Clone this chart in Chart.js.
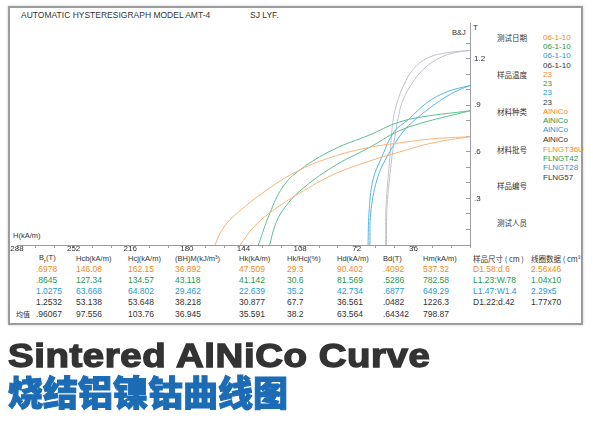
<!DOCTYPE html>
<html>
<head>
<meta charset="utf-8">
<script src="https://cdn.jsdelivr.net/npm/chart.js@4.4.0/dist/chart.umd.min.js"></script>
<style>
    html, body { margin: 0; padding: 0; background: #fff; }
    body { width: 593px; height: 421px; position: relative; overflow: hidden; font-family: "Liberation Sans", Arial, sans-serif; color: #333; }
    #frame { position: absolute; left: 8px; top: 6px; width: 575px; height: 319px; box-sizing: border-box; border: 2px solid #9c9c9c; box-shadow: 0 0 3px #d0d0d0; }
    #chartBox { position: absolute; left: 0; top: 0; width: 593px; height: 421px; }
    .t { position: absolute; white-space: nowrap; line-height: 1; transform: translateY(-50%); }
    .cn { font-family: "Noto Sans CJK SC", sans-serif; }
    #titleEn { position: absolute; left: 8px; top: 336px; font-size: 34px; font-weight: bold; color: #333; transform-origin: 0 0; transform: scaleX(1.13); -webkit-text-stroke: 1.4px #333; letter-spacing: 0.5px; }
    #titleCn { position: absolute; left: 8px; top: 372px; font-size: 35px; font-weight: 900; color: #1b6cb4; font-family: "Noto Sans CJK SC", sans-serif; line-height: 1.1; -webkit-text-stroke: 1px #1b6cb4; }
</style>
</head>
<body>
<div id="frame"></div>
<div id="texts"></div>
<div id="chartBox"><canvas id="amt-chart"></canvas></div>
<div id="titleEn">Sintered AlNiCo Curve</div>
<div id="titleCn">烧结铝镍钴曲线图</div>
<script>
// sample batches (one colour each)
var batches = ['FLNGT36U', 'FLNGT42', 'FLNGT28', 'FLNG57'];

// demagnetisation curves, H in kA/m, B / J in T
var h36uJ = [0, 23.5, 44.5, 65.5, 87.2, 108.1, 129.1, 150.8, 157.5, 162.15];
var b36uJ = [0.6978, 0.684, 0.658, 0.626, 0.568, 0.484, 0.355, 0.18, 0.1, 0];
var h36uB = [0, 23.5, 44.5, 65.5, 87.2, 108.1, 127, 138, 146.08];
var b36uB = [0.6978, 0.658, 0.6, 0.535, 0.452, 0.335, 0.21, 0.11, 0];

var h42J = [0, 29.9, 46.4, 63.6, 87.2, 108.1, 119, 127.2, 134.57];
var b42J = [0.8645, 0.826, 0.787, 0.71, 0.613, 0.484, 0.374, 0.206, 0];
var h42B = [0, 29.9, 46.4, 63.6, 87.2, 108.1, 119, 124, 127.34];
var b42B = [0.8645, 0.788, 0.729, 0.63, 0.503, 0.348, 0.224, 0.124, 0];

var h28J = [0, 14.6, 27.4, 39.4, 48.3, 56, 61.7, 64.2, 64.802];
var b28J = [1.0275, 0.987, 0.916, 0.806, 0.729, 0.568, 0.419, 0.206, 0];
var h28B = [0, 9.5, 21, 35, 42.6, 52.8, 59.2, 63.1, 63.668];
var b28B = [1.0275, 0.987, 0.916, 0.806, 0.729, 0.568, 0.419, 0.206, 0];

var h57J = [0, 14, 26.7, 36.3, 42.6, 46.4, 48.3, 49.6, 50.9, 52.2, 53.4, 53.648];
var b57J = [1.2532, 1.239, 1.206, 1.129, 1.019, 0.916, 0.839, 0.742, 0.568, 0.419, 0.245, 0];
var h57B = [0, 9.5, 19.1, 29.9, 38.2, 43.3, 45.2, 47.1, 49.6, 51.2, 52.8, 53.138];
var b57B = [1.2532, 1.239, 1.206, 1.129, 1.019, 0.916, 0.839, 0.742, 0.568, 0.419, 0.245, 0];

// axis ticks
var hTickLabels = [288, 252, 216, 180, 144, 108, 72, 36];
var bTickLabels = ['.3', '.6', '.9', '1.2'];

// info block on the right
var infoLabels = ['测试日期', '样品温度', '材料种类', '材料批号', '样品编号', '测试人员'];
var testDates = ['06-1-10', '06-1-10', '06-1-10', '06-1-10'];
var sampleTemps = ['23', '23', '23', '23'];
var materials = ['AlNiCo', 'AlNiCo', 'AlNiCo', 'AlNiCo'];

// result table
var tableHeaders = ['B<sub>r</sub>(T)', 'Hcb(kA/m)', 'Hcj(kA/m)', '(BH)M(kJ/m³)', 'Hk(kA/m)', 'Hk/Hcj(%)', 'Hd(kA/m)', 'Bd(T)', 'Hm(kA/m)', '样品尺寸 ( cm )', '线圈数据 ( cm²'];
var brVals = ['.6978', '.8645', '1.0275', '1.2532'];
var hcbVals = ['146.08', '127.34', '63.668', '53.138'];
var hcjVals = ['162.15', '134.57', '64.802', '53.648'];
var bhVals = ['36.892', '43.118', '29.462', '38.218'];
var hkVals = ['47.509', '41.142', '22.639', '30.877'];
var sqVals = ['29.3', '30.6', '35.2', '67.7'];
var hdVals = ['90.402', '81.569', '42.734', '36.561'];
var bdVals = ['.4092', '.5286', '.6877', '.0482'];
var hmVals = ['537.32', '782.58', '649.29', '1226.3'];
var sizeVals = ['D1.58:d.6', 'L1.23:W.78', 'L1.47:W1.4', 'D1.22:d.42'];
var coilVals = ['2.56x46', '1.04x10', '2.29x5', '1.77x70'];
var avgVals = ['.96067', '97.556', '103.76', '36.945', '35.591', '38.2', '63.564', '.64342', '798.87'];

(function () {
    'use strict';

    var lineColors = ['#f7b47a', '#5cbf92', '#58b6e4', '#c2c2ce'];
    var textColors = ['#f08c1e', '#1f9a4e', '#1e9ad6', '#333333'];
    var box = document.getElementById('texts');

    function addText(x, y, html, color, size, cls) {
        var el = document.createElement('div');
        el.className = 't' + (cls ? ' ' + cls : '');
        el.style.left = x + 'px';
        el.style.top = y + 'px';
        el.style.fontSize = size + 'px';
        el.style.color = color || '#333';
        el.innerHTML = html;
        box.appendChild(el);
    }

    function pairs(hs, bs) {
        return hs.map(function (h, i) {
            return { x: h, y: bs[i] };
        });
    }

    // header texts
    addText(21, 15, 'AUTOMATIC HYSTERESIGRAPH MODEL AMT-4', '#333', 8.5);
    addText(250, 15, 'SJ LYF.', '#333', 8.5);
    addText(13, 236, 'H(kA/m)', '#333', 7.5);
    addText(452, 33, 'B&amp;J', '#333', 7.5);
    addText(473, 28, 'T', '#333', 8);

    // info block
    var infoY = [38, 75, 112, 150, 186, 223];
    infoLabels.forEach(function (label, i) {
        addText(497, infoY[i], label, '#333', 7.5, 'cn');
    });
    [testDates, sampleTemps, materials, batches].forEach(function (list, k) {
        list.forEach(function (val, i) {
            addText(543, infoY[k] + i * 9.2, val, textColors[i], 8);
        });
    });

    // result table
    var colX = [36, 76, 128, 175, 239, 287, 337, 383, 423, 473, 531];
    var rowY0 = 257.2;
    var rowStep = 11.3;
    tableHeaders.forEach(function (hd, c) {
        addText(c === 0 ? 39 : colX[c], 258.5, hd, '#333', 7.5, c > 8 ? 'cn' : '');
    });
    var columns = [brVals, hcbVals, hcjVals, bhVals, hkVals, sqVals, hdVals, bdVals, hmVals, sizeVals, coilVals];
    batches.forEach(function (b, r) {
        columns.forEach(function (col, c) {
            addText(colX[c], rowY0 + (r + 1) * rowStep, col[r], textColors[r], 8.5);
        });
    });
    addText(16, rowY0 + 5 * rowStep, '均值', '#333', 7, 'cn');
    avgVals.forEach(function (val, c) {
        addText(colX[c], rowY0 + 5 * rowStep, val, '#333', 8.5);
    });

    // curves: J (intrinsic) and B (normal) per batch
    var curves = [
        [h36uJ, b36uJ, h36uB, b36uB],
        [h42J, b42J, h42B, b42B],
        [h28J, b28J, h28B, b28B],
        [h57J, b57J, h57B, b57B]
    ];
    var datasets = [];
    curves.forEach(function (c, i) {
        datasets.push({ label: batches[i] + ' J', data: pairs(c[0], c[1]) });
        datasets.push({ label: batches[i] + ' B', data: pairs(c[2], c[3]) });
    });
    datasets.forEach(function (ds, i) {
        var color = lineColors[Math.floor(i / 2)];
        ds.borderColor = color;
        ds.backgroundColor = color;
        ds.borderWidth = 1;
        ds.showLine = true;
        ds.pointRadius = 0;
        ds.tension = 0.4;
        ds.fill = false;
    });

    var tickFont = { family: '"Liberation Sans", Arial, sans-serif', size: 8 };

    new Chart(document.getElementById('amt-chart').getContext('2d'), {
        type: 'scatter',
        data: { datasets: datasets },
        options: {
            responsive: true,
            maintainAspectRatio: false,
            animation: false,
            layout: {
                padding: { left: 17, top: 23, right: 101, bottom: 162 }
            },
            plugins: {
                legend: { display: false },
                tooltip: { enabled: false }
            },
            scales: {
                x: {
                    type: 'linear',
                    reverse: true,
                    min: 0,
                    max: 288,
                    afterFit: function (s) { s.height = 14; },
                    border: { display: true, color: '#9a9aa8', width: 1 },
                    grid: { drawOnChartArea: false, tickLength: 3, color: '#9a9aa8' },
                    ticks: {
                        stepSize: 12,
                        autoSkip: false,
                        maxRotation: 0,
                        padding: -4,
                        color: '#333',
                        font: tickFont,
                        callback: function (v) {
                            return hTickLabels.indexOf(v) >= 0 ? String(v) : '';
                        }
                    }
                },
                y: {
                    type: 'linear',
                    position: 'right',
                    min: 0,
                    max: 1.43,
                    afterFit: function (s) { s.width = 22; },
                    afterBuildTicks: function (s) {
                        s.ticks = s.ticks.filter(function (t) {
                            return Math.abs(t.value * 10 - Math.round(t.value * 10)) < 1e-6;
                        });
                    },
                    border: { display: true, color: '#9a9aa8', width: 1 },
                    grid: { drawOnChartArea: false, tickLength: -4, color: '#9a9aa8' },
                    ticks: {
                        stepSize: 0.1,
                        autoSkip: false,
                        padding: 8,
                        color: '#333',
                        font: tickFont,
                        callback: function (v) {
                            var r = Math.round(v * 10);
                            return (r > 0 && r % 3 === 0) ? bTickLabels[r / 3 - 1] : '';
                        }
                    }
                }
            }
        }
    });
})();
</script>
</body>
</html>
